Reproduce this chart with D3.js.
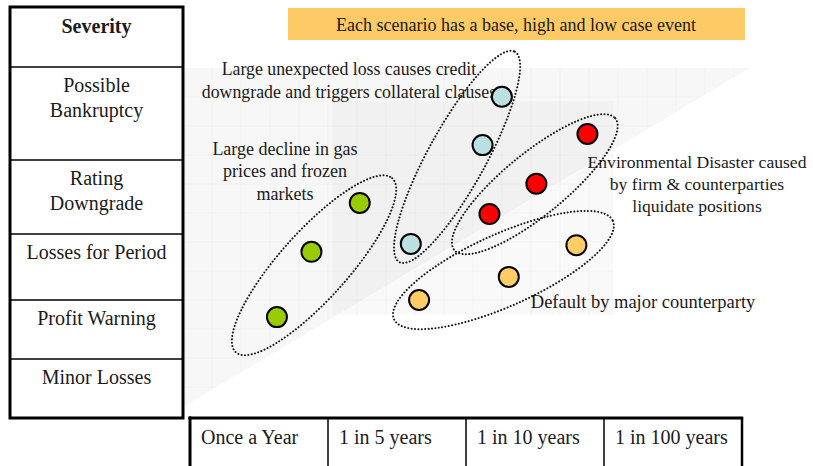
<!DOCTYPE html>
<html>
<head>
<meta charset="utf-8">
<script src="https://cdn.jsdelivr.net/npm/d3@7"></script>
<style>
  html, body { margin: 0; padding: 0; background: #fff; }
  svg { display: block; }
  text { font-family: "Liberation Serif", "DejaVu Serif", serif; fill: #1a1a1a; }
</style>
</head>
<body>
<svg id="chart" width="813" height="466"></svg>
<script>
// Severity rows, bottom to top
const severityLabels = [
  ["Minor Losses"],
  ["Profit Warning"],
  ["Losses for Period"],
  ["Rating", "Downgrade"],
  ["Possible", "Bankruptcy"]
];
const severityTitle = "Severity";

// Frequency columns, left to right
const frequencyLabels = ["Once a Year", "1 in 5 years", "1 in 10 years", "1 in 100 years"];

const bannerText = "Each scenario has a base, high and low case event";

// Scenario names (drawn as multi-line notes)
const gasName     = ["Large decline in gas", "prices and frozen", "markets"];
const creditName  = ["Large unexpected loss causes credit", "downgrade and triggers collateral clauses"];
const envName     = ["Environmental Disaster caused", "by firm & counterparties", "liquidate positions"];
const defaultName = ["Default by major counterparty"];

// Low / base / high case events: frequency (column units) and severity (row units)
const gasFrequency      = [0.63, 0.88, 1.23];
const gasSeverity       = [1.71, 2.73, 3.42];
const creditFrequency   = [1.60, 2.12, 2.26];
const creditSeverity    = [2.85, 4.16, 4.68];
const envFrequency      = [2.17, 2.51, 2.88];
const envSeverity       = [3.27, 3.68, 4.28];
const defaultFrequency  = [1.66, 2.31, 2.80];
const defaultSeverity   = [2.00, 2.35, 2.83];

const svg = d3.select("#chart");

// Scales: columns are equal width, rows follow the severity table
const x = d3.scaleLinear().domain([0, 4]).range([190, 742]);
const y = d3.scaleLinear().domain([0, 1, 2, 3, 4, 5]).range([418, 359, 300, 234, 160, 67]);

// Scenario presentation
const scenarios = [
  { name: gasName, fx: gasFrequency, sy: gasSeverity, fill: "#99CC00",
    note: { fx: 0.688, sy: 4.054, lead: 22.5, size: 18 },
    hull: { len: 117, wid: 34, turn: 6, dx: -2, dy: 8 } },
  { name: creditName, fx: creditFrequency, sy: creditSeverity, fill: "#BCE0E2",
    note: { fx: 1.152, sy: 4.914, lead: 23, size: 17.8 },
    hull: { len: 120, wid: 29, turn: -3, dx: -8, dy: -5 } },
  { name: envName, fx: envFrequency, sy: envSeverity, fill: "#FF0000",
    note: { fx: 3.674, sy: 3.892, lead: 22, size: 17.6 },
    hull: { len: 104, wid: 31, turn: 0, dx: -3, dy: 7 } },
  { name: defaultName, fx: defaultFrequency, sy: defaultSeverity, fill: "#FFCC66",
    note: { fx: 3.283, sy: 1.864, lead: 22, size: 18.5 },
    hull: { len: 120, wid: 36, turn: -5, dx: 2, dy: -4 } }
];

// ---- Backdrop: faint perspective plane with a soft grid ----
const defs = svg.append("defs");
const tri = [[x(0) - 5, y(5) + 1], [x(4) + 8, y(5) + 1], [x(0) - 5, y(0) - 12]];
const wall = [x(1.03), y(4.63), x(3.07), y(1.75)];
const clip = defs.append("clipPath").attr("id", "backdrop");
clip.append("polygon").attr("points", tri.map(p => p.join(",")).join(" "));
clip.append("rect").attr("x", wall[0]).attr("y", wall[1])
  .attr("width", wall[2] - wall[0]).attr("height", wall[3] - wall[1]);

const back = svg.append("g");
back.append("polygon").attr("points", tri.map(p => p.join(",")).join(" "))
  .attr("fill", "#000").attr("fill-opacity", 0.032);
back.append("rect").attr("x", wall[0]).attr("y", wall[1])
  .attr("width", wall[2] - wall[0]).attr("height", wall[3] - wall[1])
  .attr("fill", "#000").attr("fill-opacity", 0.024);

const grid = back.append("g").attr("clip-path", "url(#backdrop)")
  .attr("stroke", "#000").attr("stroke-opacity", 0.022).attr("stroke-width", 1);
for (let gx = 212; gx < 760; gx += 29) {
  grid.append("line").attr("x1", gx).attr("x2", gx).attr("y1", 60).attr("y2", 420);
}
for (let gy = 97; gy < 420; gy += 29) {
  grid.append("line").attr("x1", 180).attr("x2", 760).attr("y1", gy).attr("y2", gy);
}

// ---- Banner ----
svg.append("rect").attr("x", 288).attr("y", 8).attr("width", 457).attr("height", 32)
  .attr("fill", "#FDCA66");
svg.append("text").attr("x", 516).attr("y", 30.5).attr("text-anchor", "middle")
  .style("font-size", "18px").text(bannerText);

// ---- Severity table (left) ----
const tableLeft = 10, tableRight = 183, tableTop = 7;
const sev = svg.append("g");
sev.append("rect").attr("x", tableLeft).attr("y", tableTop)
  .attr("width", tableRight - tableLeft).attr("height", y(0) - tableTop)
  .attr("fill", "none").attr("stroke", "#000").attr("stroke-width", 3);
sev.selectAll("line.row").data(d3.range(1, 6)).join("line")
  .attr("class", "row")
  .attr("x1", tableLeft).attr("x2", tableRight)
  .attr("y1", d => y(d)).attr("y2", d => y(d))
  .attr("stroke", "#000").attr("stroke-width", 1.5);
const midX = (tableLeft + tableRight) / 2;
sev.append("text").attr("x", midX).attr("y", tableTop + 26)
  .attr("text-anchor", "middle").style("font-size", "20px").style("font-weight", "bold")
  .text(severityTitle);
severityLabels.forEach((lines, i) => {
  const t = sev.append("text").attr("text-anchor", "middle").style("font-size", "20px");
  lines.forEach((ln, j) => {
    t.append("tspan").attr("x", midX).attr("y", y(i + 1) + 25 + j * 25).text(ln);
  });
});

// ---- Frequency table (bottom) ----
const freq = svg.append("g");
freq.selectAll("line.col").data(d3.range(1, 4)).join("line")
  .attr("class", "col")
  .attr("x1", d => x(d)).attr("x2", d => x(d))
  .attr("y1", y(0)).attr("y2", 470)
  .attr("stroke", "#000").attr("stroke-width", 1.5);
freq.append("line").attr("x1", x(4)).attr("x2", x(4)).attr("y1", y(0)).attr("y2", 470)
  .attr("stroke", "#000").attr("stroke-width", 2.5);
freq.append("line").attr("x1", x(0)).attr("x2", x(0)).attr("y1", y(0) - 1.5).attr("y2", 470)
  .attr("stroke", "#000").attr("stroke-width", 3);
freq.append("line").attr("x1", x(0) - 1.5).attr("x2", x(4) + 1.25).attr("y1", y(0)).attr("y2", y(0))
  .attr("stroke", "#000").attr("stroke-width", 3);
freq.selectAll("text").data(frequencyLabels).join("text")
  .attr("x", (d, i) => x(i) + 11).attr("y", y(0) + 26)
  .style("font-size", "20px").text(d => d);

// ---- Scenario notes ----
const notes = svg.append("g");
scenarios.forEach(s => {
  const t = notes.append("text").attr("text-anchor", "middle").style("font-size", s.note.size + "px");
  s.name.forEach((ln, j) => {
    t.append("tspan").attr("x", x(s.note.fx)).attr("y", y(s.note.sy) + j * s.note.lead).text(ln);
  });
});

// ---- Dotted envelopes around each scenario's three cases ----
const hulls = svg.append("g");
scenarios.forEach(s => {
  const pts = s.fx.map((f, i) => [x(f), y(s.sy[i])]);
  const cx = d3.mean(pts, p => p[0]) + s.hull.dx;
  const cy = d3.mean(pts, p => p[1]) + s.hull.dy;
  const a = pts[0], b = pts[pts.length - 1];
  const ang = Math.atan2(b[1] - a[1], b[0] - a[0]) * 180 / Math.PI + s.hull.turn;
  hulls.append("ellipse")
    .attr("cx", 0).attr("cy", 0).attr("rx", s.hull.len).attr("ry", s.hull.wid)
    .attr("transform", `translate(${cx},${cy}) rotate(${ang})`)
    .attr("fill", "none").attr("stroke", "#111").attr("stroke-width", 2)
    .attr("stroke-linecap", "round").attr("stroke-dasharray", "0.01 3.4");
});

// ---- Case events ----
const dots = svg.append("g");
scenarios.forEach(s => {
  dots.selectAll(null).data(s.fx.map((f, i) => ({ f, v: s.sy[i] }))).join("circle")
    .attr("cx", d => x(d.f)).attr("cy", d => y(d.v)).attr("r", 10)
    .attr("fill", s.fill).attr("stroke", "#000").attr("stroke-width", 2);
});
</script>
</body>
</html>
